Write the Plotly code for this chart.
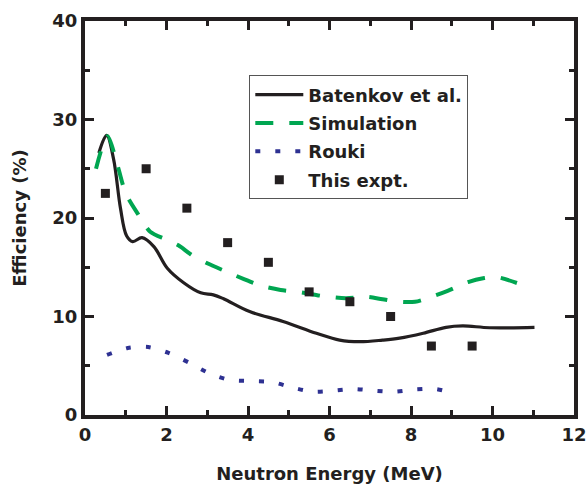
import plotly.graph_objects as go

# Batenkov et al. (solid black)
bat_x = [0.34, 0.53, 0.7, 0.87, 1.02, 1.17, 1.4, 1.69, 2.02, 2.43, 2.84, 3.15, 3.4, 4.04, 4.86, 5.68, 6.25, 6.74, 7.3, 7.72, 8.3, 8.86, 9.27, 9.93, 11.03]
bat_y = [26.6, 28.4, 26.0, 21.0, 18.2, 17.6, 18.0, 17.1, 14.9, 13.4, 12.4, 12.2, 11.8, 10.5, 9.5, 8.3, 7.6, 7.44, 7.6, 7.8, 8.3, 8.9, 9.04, 8.86, 8.9]

# Simulation (green dashed)
sim_x = [0.27, 0.55, 0.8, 1.0, 1.3, 1.6, 2.0, 2.3, 2.6, 3.0, 3.5, 3.9, 4.3, 4.8, 5.3, 5.8, 6.4, 6.9, 7.3, 7.7, 8.1, 8.5, 8.9, 9.4, 9.8, 10.1, 10.6]
sim_y = [25.0, 28.3, 25.3, 22.5, 20.4, 18.6, 17.8, 17.2, 16.3, 15.4, 14.5, 13.8, 13.15, 12.7, 12.45, 12.1, 11.85, 12.0, 11.75, 11.5, 11.5, 12.0, 12.6, 13.5, 13.9, 14.0, 13.4]

# Rouki (blue dotted)
rou_x = [0.54, 1.05, 1.55, 2.05, 2.56, 3.07, 3.56, 4.07, 4.58, 5.08, 5.58, 6.09, 6.59, 7.1, 7.6, 8.1, 8.6, 9.12]
rou_y = [6.1, 6.8, 6.9, 6.3, 5.3, 4.2, 3.55, 3.45, 3.35, 2.8, 2.37, 2.47, 2.64, 2.47, 2.37, 2.6, 2.64, 2.1]

# This experiment (squares)
exp_x = [0.5, 1.5, 2.5, 3.5, 4.5, 5.5, 6.5, 7.5, 8.5, 9.5]
exp_y = [22.5, 25.0, 21.0, 17.5, 15.5, 12.5, 11.5, 10.0, 7.0, 7.0]

FONT = "DejaVu Sans"
BLACK = "#231f20"

fig = go.Figure()
fig.add_trace(go.Scatter(x=bat_x, y=bat_y, mode="lines", name="<b>Batenkov et al.</b>",
                         legendgroup="a",
                         line=dict(color=BLACK, width=3.2, shape="spline", smoothing=1.0)))
fig.add_trace(go.Scatter(x=sim_x, y=sim_y, mode="lines", name="<b>Simulation</b>",
                         legendgroup="b",
                         line=dict(color="#00a651", width=4, dash="18px,16px", shape="spline", smoothing=0.8)))
fig.add_trace(go.Scatter(x=rou_x, y=rou_y, mode="lines", name="<b>Rouki</b>",
                         legendgroup="c",
                         line=dict(color="#2e3192", width=4, dash="5px,15px", shape="spline", smoothing=0.8)))
fig.add_trace(go.Scatter(x=exp_x, y=exp_y, mode="markers", name="<b>This expt.</b>",
                         legendgroup="d",
                         marker=dict(symbol="square", size=9, color=BLACK)))

axis_common = dict(
    showline=True, linewidth=4, linecolor=BLACK, mirror="ticks",
    ticks="inside", ticklen=9, tickwidth=3, tickcolor=BLACK,
    showgrid=False, zeroline=False, automargin=False,
    tickfont=dict(family=FONT, size=18, color=BLACK, weight="bold"),
)

fig.update_xaxes(range=[0, 12], dtick=2, tick0=0,
                 minor=dict(dtick=1, ticks="inside", ticklen=5, tickwidth=3, tickcolor=BLACK),
                 title=dict(text="<b>Neutron Energy (MeV)</b>", font=dict(family=FONT, size=18, color=BLACK), standoff=25),
                 **axis_common)
fig.update_yaxes(range=[0, 40], dtick=10, tick0=0,
                 minor=dict(dtick=5, ticks="inside", ticklen=5, tickwidth=3, tickcolor=BLACK),
                 title=dict(text="<b>Efficiency (%)</b>", font=dict(family=FONT, size=18, color=BLACK), standoff=22),
                 **axis_common)

fig.update_layout(
    width=588, height=485,
    margin=dict(l=85, r=14, t=21, b=70),
    paper_bgcolor="white", plot_bgcolor="white",
    font=dict(family=FONT, color=BLACK),
    legend=dict(x=0.336, y=0.862, xanchor="left", yanchor="top",
                bgcolor="white", bordercolor="#555555", borderwidth=1,
                font=dict(family=FONT, size=18, color=BLACK),
                traceorder="grouped", tracegroupgap=2, itemwidth=48),
    showlegend=True,
)

fig.write_html("out.html")
